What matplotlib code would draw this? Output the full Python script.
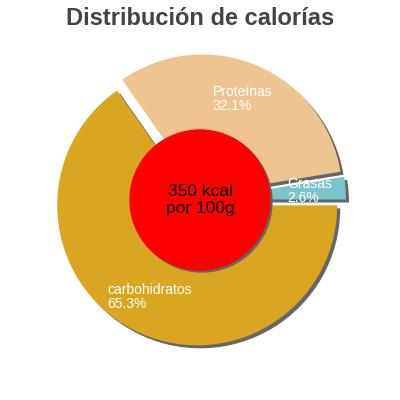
import matplotlib
matplotlib.use("Agg")
import matplotlib.pyplot as plt

plt.rcParams['font.family'] = ['Liberation Sans', 'DejaVu Sans']

labels = ["Grasas", "Proteínas", "carbohidratos"]
values = [2.6, 32.1, 65.3]
colors = ["#7ac4cc", "#eec591", "#daa520"]
total_text = "350 kcal\npor 100g"

fig = plt.figure(figsize=(4, 4), dpi=100)
ax = fig.add_axes([0, 0, 1, 1])

cx, cy, r = 200, 200, 140
expl = [6] * len(values)

# shadows first
ax.pie(values, center=(cx + 3, cy - 3), radius=r, startangle=0,
       explode=expl, colors=["#666666"] * len(values), frame=False)

wedges, texts = ax.pie(values, center=(cx, cy), radius=r, startangle=0,
                       explode=expl, colors=colors, frame=False,
                       labels=[f"{l}\n{v}%" for l, v in zip(labels, values)],
                       labeldistance=0.74)
for t in texts:
    t.set_color("white")
    t.set_fontsize(10)
    t.set_ha("center")
    t.set_va("center")
    t.set_multialignment("left")
    t.set_linespacing(0.95)

ax.add_patch(plt.Circle((cx + 2, cy - 2), 70, color="#666666", zorder=5))
ax.add_patch(plt.Circle((cx, cy), 70, color="#ff0000", zorder=6))
ax.text(cx, cy, total_text, ha="center", va="center", fontsize=12.5,
        color="black", linespacing=1.15, zorder=7)

ax.text(200, 375, "Distribución de calorías", ha="center", va="baseline",
        fontsize=17, fontweight="bold", color="#444444")

ax.set_xlim(0, 400)
ax.set_ylim(0, 400)
ax.set_aspect("equal")
ax.axis("off")

fig.savefig("out.png", dpi=100)
